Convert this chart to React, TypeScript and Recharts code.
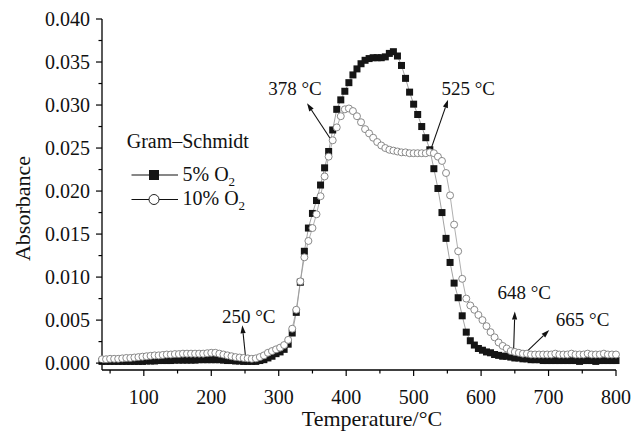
import React from 'react'
import {
  LineChart,
  Line,
  XAxis,
  YAxis,
  Legend,
  ReferenceLine,
  ReferenceDot,
  Label,
} from 'recharts'

// Gram–Schmidt absorbance vs. temperature, sampled every 6 °C
const temperature = [
  38, 44, 50, 56, 62, 68, 74, 80, 86, 92,
  98, 104, 110, 116, 122, 128, 134, 140, 146, 152,
  158, 164, 170, 176, 182, 188, 194, 200, 206, 212,
  218, 224, 230, 236, 242, 248, 254, 260, 266, 272,
  278, 284, 290, 296, 302, 308, 314, 320, 326, 332,
  338, 344, 350, 356, 362, 368, 374, 380, 386, 392,
  398, 404, 410, 416, 422, 428, 434, 440, 446, 452,
  458, 464, 470, 476, 482, 488, 494, 500, 506, 512,
  518, 524, 530, 536, 542, 548, 554, 560, 566, 572,
  578, 584, 590, 596, 602, 608, 614, 620, 626, 632,
  638, 644, 650, 656, 662, 668, 674, 680, 686, 692,
  698, 704, 710, 716, 722, 728, 734, 740, 746, 752,
  758, 764, 770, 776, 782, 788, 794, 800,
]

const o2Five = [
  0.0002, 0.0002, 0.0002, 0.0002, 0.0002, 0.0002, 0.0002, 0.0002, 0.0002, 0.0002,
  0.0002, 0.00025, 0.00025, 0.00025, 0.0003, 0.0003, 0.0003, 0.0003, 0.00035, 0.00035,
  0.00035, 0.00035, 0.00035, 0.00035, 0.0004, 0.0004, 0.0004, 0.0004, 0.0004, 0.0004,
  0.00035, 0.0003, 0.0003, 0.00025, 0.00025, 0.0002, 0.0002, 0.0002, 0.0002, 0.0003,
  0.0004, 0.0006, 0.0008, 0.0011, 0.0013, 0.0016, 0.0022, 0.0035, 0.0059, 0.0094,
  0.013, 0.0157, 0.0174, 0.0189, 0.0207, 0.0227, 0.0246, 0.0271, 0.0295, 0.0306,
  0.0316, 0.0326, 0.0335, 0.0342, 0.0348, 0.0352, 0.0354, 0.0355, 0.0355, 0.0355,
  0.0356, 0.036, 0.0362, 0.0357, 0.0346, 0.0331, 0.0315, 0.0301, 0.0289, 0.0275,
  0.0262, 0.0248, 0.0226, 0.0203, 0.0175, 0.0145, 0.0117, 0.0093, 0.0076, 0.0055,
  0.0036, 0.0026, 0.0021, 0.0017, 0.0015, 0.0013, 0.0012, 0.001, 0.0009, 0.0008,
  0.0008, 0.0007, 0.0006, 0.0006, 0.0005, 0.0005, 0.0004, 0.0004, 0.0004, 0.0003,
  0.0003, 0.0003, 0.0003, 0.0003, 0.0003, 0.0003, 0.0003, 0.0003, 0.0002, 0.0003,
  0.0003, 0.0003, 0.0002, 0.0003, 0.0003, 0.0003, 0.0003, 0.0003,
]

const o2Ten = [
  0.00045, 0.00045, 0.0005, 0.0005, 0.0005, 0.00055, 0.0006, 0.0006, 0.00065, 0.0007,
  0.00075, 0.0008, 0.00085, 0.0009, 0.0009, 0.00095, 0.001, 0.001, 0.00105, 0.00105,
  0.0011, 0.0011, 0.0011, 0.0011, 0.0011, 0.0011, 0.00115, 0.0012, 0.0012, 0.0011,
  0.001, 0.0009, 0.0008, 0.0007, 0.00065, 0.0006, 0.00055, 0.0005, 0.00055, 0.0007,
  0.0009, 0.0012, 0.0014, 0.0016, 0.0018, 0.0021, 0.0027, 0.004, 0.0062, 0.0095,
  0.0123, 0.0142, 0.0157, 0.0173, 0.0194, 0.0217, 0.024, 0.0259, 0.0274, 0.0287,
  0.0295, 0.0296, 0.0293, 0.0287, 0.028, 0.0272, 0.0267, 0.0262, 0.0257, 0.0253,
  0.025, 0.0248, 0.0247, 0.0246, 0.0245, 0.0245, 0.0244, 0.0244, 0.0244, 0.0244,
  0.0244, 0.0245, 0.0244, 0.024, 0.0235, 0.0221, 0.0195, 0.0161, 0.013, 0.0098,
  0.0075, 0.0067, 0.0062, 0.0056, 0.005, 0.0043, 0.0036, 0.003, 0.0024, 0.002,
  0.0017, 0.0014, 0.0013, 0.0012, 0.0011, 0.0011, 0.001, 0.001, 0.001, 0.001,
  0.001, 0.001, 0.0011, 0.001, 0.001, 0.001, 0.0011, 0.001, 0.001, 0.001,
  0.0011, 0.001, 0.001, 0.001, 0.0011, 0.001, 0.001, 0.001,
]

const xTicks = [50, 100, 150, 200, 250, 300, 350, 400, 450, 500, 550, 600, 650, 700, 750, 800]
const yTicks = [
  0, 0.0025, 0.005, 0.0075, 0.01, 0.0125, 0.015, 0.0175, 0.02,
  0.0225, 0.025, 0.0275, 0.03, 0.0325, 0.035, 0.0375, 0.04,
]

// legend order, top to bottom
const seriesOrder = ['o5', 'o10']

// onset / peak markers: label text, label anchor, arrow tail and head
const notes = [
  { text: '250 °C', at: [255.6, 0.0054], from: [251, 0.00056], to: [246, 0.0044] },
  { text: '378 °C', at: [324, 0.0319], from: [378, 0.0259], to: [342, 0.0302] },
  { text: '525 °C', at: [581, 0.032], from: [524, 0.0245], to: [551, 0.0306] },
  { text: '648 °C', at: [664, 0.0082], from: [648, 0.00094], to: [650, 0.006] },
  { text: '665 °C', at: [750.5, 0.0051], from: [665, 0.00114], to: [701, 0.00385] },
]

const data = temperature.map((t, i) => ({ t, o5: o2Five[i], o10: o2Ten[i] }))

const FONT = '"Liberation Serif", "Times New Roman", serif'

const XTick = (props: any) => {
  const { x, y, payload } = props
  const major = payload.value % 100 === 0
  return (
    <g>
      <line x1={x} y1={y} x2={x} y2={y + (major ? 6 : 3.5)} stroke="#000" strokeWidth={1.2} />
      {major && (
        <text x={x} y={y + 34} textAnchor="middle" fontSize={20} fontFamily={FONT} fill="#111">
          {payload.value}
        </text>
      )}
    </g>
  )
}

const YTick = (props: any) => {
  const { x, y, payload } = props
  const major = Math.round(payload.value * 10000) % 50 === 0
  return (
    <g>
      <line x1={x} y1={y} x2={x - (major ? 6 : 3.5)} y2={y} stroke="#000" strokeWidth={1.2} />
      {major && (
        <text x={x - 12} y={y + 7} textAnchor="end" fontSize={20} fontFamily={FONT} fill="#111">
          {payload.value.toFixed(3)}
        </text>
      )}
    </g>
  )
}

const SquareDot = (p: any) => {
  if (p.cx == null || p.cy == null) return <g key={`s${p.index}`} />
  return <rect key={`s${p.index}`} x={p.cx - 3.5} y={p.cy - 3.5} width={7} height={7} fill="#151515" />
}

const CircleDot = (p: any) => {
  if (p.cx == null || p.cy == null) return <g key={`c${p.index}`} />
  return <circle key={`c${p.index}`} cx={p.cx} cy={p.cy} r={3.5} fill="#fff" stroke="#7d7d7d" strokeWidth={0.9} />
}

const Arrow = (props: any) => {
  const { x1, y1, x2, y2 } = props
  if ([x1, y1, x2, y2].some((v) => v == null || isNaN(v))) return <g />
  const a = Math.atan2(y2 - y1, x2 - x1)
  const len = 8
  const half = 2.6
  const bx = x2 - len * Math.cos(a)
  const by = y2 - len * Math.sin(a)
  const pts = [
    `${x2},${y2}`,
    `${bx - half * Math.sin(a)},${by + half * Math.cos(a)}`,
    `${bx + half * Math.sin(a)},${by - half * Math.cos(a)}`,
  ].join(' ')
  return (
    <g>
      <line x1={x1} y1={y1} x2={bx} y2={by} stroke="#111" strokeWidth={1.1} />
      <polygon points={pts} fill="#111" />
    </g>
  )
}

const LegendBox = (props: any) => {
  const items = [...(props.payload || [])].sort(
    (a: any, b: any) => seriesOrder.indexOf(a.dataKey) - seriesOrder.indexOf(b.dataKey),
  )
  return (
    <svg width={150} height={90} style={{ overflow: 'visible' }}>
      <text x={6.7} y={19.5} fontSize={20} fontFamily={FONT} fill="#111">
        Gram–Schmidt
      </text>
      {items.map((item: any, i: number) => {
        const cy = 47 + i * 24.5
        const name: string = item.value
        return (
          <g key={item.value}>
            <line x1={11.5} y1={cy} x2={58} y2={cy} stroke="#111" strokeWidth={1.1} />
            {item.dataKey === 'o5' ? (
              <rect x={29} y={cy - 5} width={10} height={10} fill="#151515" />
            ) : (
              <circle cx={34} cy={cy} r={5} fill="#fff" stroke="#222" strokeWidth={1} />
            )}
            <text x={62.5} y={cy + 5.5} fontSize={20} fontFamily={FONT} fill="#111">
              {name.slice(0, -1)}
              <tspan fontSize={13} dy={5}>
                {name.slice(-1)}
              </tspan>
            </text>
          </g>
        )
      })}
    </svg>
  )
}

export default function App() {
  return (
    <div style={{ position: 'absolute', left: 0, top: 0, background: '#fff' }}>
      <LineChart width={631} height={433} data={data} margin={{ top: 19, right: 15, left: 0, bottom: 0 }}>
        <XAxis
          dataKey="t"
          type="number"
          domain={[38, 800]}
          ticks={xTicks}
          interval={0}
          tickSize={0}
          tickMargin={0}
          tickLine={false}
          tick={<XTick />}
          axisLine={{ stroke: '#000', strokeWidth: 1.3 }}
          height={63}
        >
          <Label
            content={({ viewBox }: any) => (
              <text
                x={viewBox.x + viewBox.width / 2 + 13}
                y={viewBox.y + 56}
                textAnchor="middle"
                fontSize={22}
                fontFamily={FONT}
                fill="#111"
              >
                Temperature/°C
              </text>
            )}
          />
        </XAxis>
        <YAxis
          type="number"
          domain={[-0.0008, 0.04]}
          ticks={yTicks}
          interval={0}
          tickSize={0}
          tickMargin={0}
          tickLine={false}
          tick={<YTick />}
          axisLine={{ stroke: '#000', strokeWidth: 1.3 }}
          width={102}
        >
          <Label
            content={({ viewBox }: any) => {
              const cx = viewBox.x + 22
              const cy = viewBox.y + viewBox.height / 2 + 14
              return (
                <text
                  x={cx}
                  y={cy}
                  transform={`rotate(-90 ${cx} ${cy})`}
                  textAnchor="middle"
                  dominantBaseline="central"
                  fontSize={22}
                  fontFamily={FONT}
                  fill="#111"
                >
                  Absorbance
                </text>
              )
            }}
          />
        </YAxis>
        <Legend
          layout="vertical"
          align="center"
          verticalAlign="middle"
          content={<LegendBox />}
          wrapperStyle={{ left: 120, top: 128, width: 150, height: 90 }}
        />
        <Line
          dataKey="o5"
          name="5% O2"
          stroke="#8c8c8c"
          strokeWidth={0.8}
          dot={SquareDot}
          activeDot={false}
          isAnimationActive={false}
        />
        <Line
          dataKey="o10"
          name="10% O2"
          stroke="#9a9a9a"
          strokeWidth={0.8}
          dot={CircleDot}
          activeDot={false}
          isAnimationActive={false}
        />
        {notes.map((n) => (
          <ReferenceLine
            key={`a-${n.text}`}
            segment={[
              { x: n.from[0], y: n.from[1] },
              { x: n.to[0], y: n.to[1] },
            ]}
            ifOverflow="visible"
            shape={Arrow}
          />
        ))}
        {notes.map((n) => (
          <ReferenceDot
            key={`t-${n.text}`}
            x={n.at[0]}
            y={n.at[1]}
            r={0}
            fill="none"
            stroke="none"
            ifOverflow="visible"
            label={{ value: n.text, position: 'center', fontSize: 19, fontFamily: FONT, fill: '#111' }}
          />
        ))}
      </LineChart>
    </div>
  )
}
